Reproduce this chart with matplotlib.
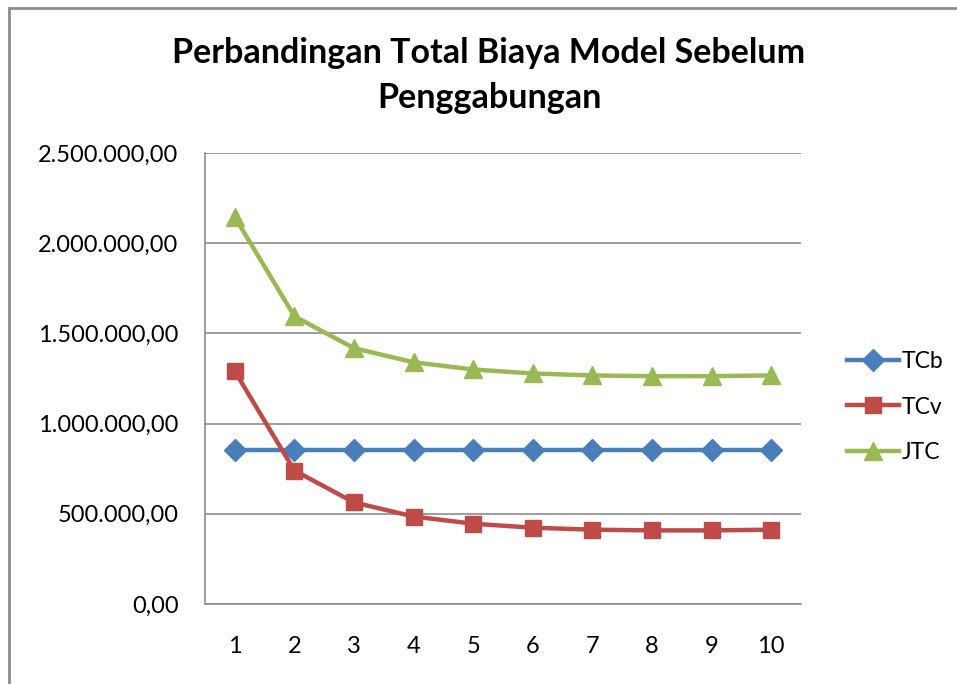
import matplotlib.pyplot as plt
from matplotlib.lines import Line2D
from matplotlib.ticker import FuncFormatter

plt.rcParams['font.family'] = ['Lato', 'DejaVu Sans']

periods = [1, 2, 3, 4, 5, 6, 7, 8, 9, 10]
tcb = [855000, 855000, 855000, 855000, 855000, 855000, 855000, 855000, 855000, 855000]
tcv = [1290000, 740000, 563000, 485000, 445000, 423000, 412000, 408000, 408000, 412000]
jtc = [2145000, 1595000, 1418000, 1340000, 1300000, 1278000, 1267000, 1263000, 1263000, 1267000]


def rupiah(v, pos):
    s = f"{v:,.2f}"
    return s.replace(",", "X").replace(".", ",").replace("X", ".")


fig = plt.figure(figsize=(9.57, 6.84), dpi=100)
ax = fig.add_axes([205 / 957, 80 / 684, 596 / 957, 451 / 684])

ax.plot(periods, tcb, color="#4a7ebb", lw=3.2, marker="D", ms=11, label="TCb")
ax.plot(periods, tcv, color="#be4b48", lw=3.2, marker="s", ms=12, label="TCv")
ax.plot(periods, jtc, color="#98b954", lw=3.2, marker="^", ms=13, label="JTC")

ax.set_xlim(0.5, 10.5)
ax.set_ylim(0, 2500000)
ax.set_yticks([0, 500000, 1000000, 1500000, 2000000, 2500000])
ax.yaxis.set_major_formatter(FuncFormatter(rupiah))
ax.set_xticks(periods)
ax.tick_params(axis="both", length=0, labelsize=17)
ax.tick_params(axis="x", pad=23)
ax.tick_params(axis="y", pad=19)
ax.grid(axis="y", color="#8c8c8c", lw=1.2)
ax.set_axisbelow(True)
for side in ["top", "right"]:
    ax.spines[side].set_visible(False)
for side in ["left", "bottom"]:
    ax.spines[side].set_color("#8c8c8c")
    ax.spines[side].set_linewidth(1.2)

fig.text(0.511, 1 - 53 / 684, "Perbandingan Total Biaya Model Sebelum",
         ha="center", va="center", fontsize=24.5, fontweight="bold")
fig.text(0.511, 1 - 98 / 684, "Penggabungan",
         ha="center", va="center", fontsize=24.5, fontweight="bold")

fig.legend(loc="center left", bbox_to_anchor=(826 / 957, 1 - 407 / 684),
           frameon=False, fontsize=16.5, handlelength=2.3, handletextpad=0.1,
           labelspacing=1.05)

# chart area frame
fig.add_artist(Line2D([9 / 957, 9 / 957], [0, 1 - 8 / 684], color="#8c8c8c", lw=2))
fig.add_artist(Line2D([9 / 957, 1], [1 - 8 / 684, 1 - 8 / 684], color="#8c8c8c", lw=2))

fig.savefig("out.png", dpi=100)
